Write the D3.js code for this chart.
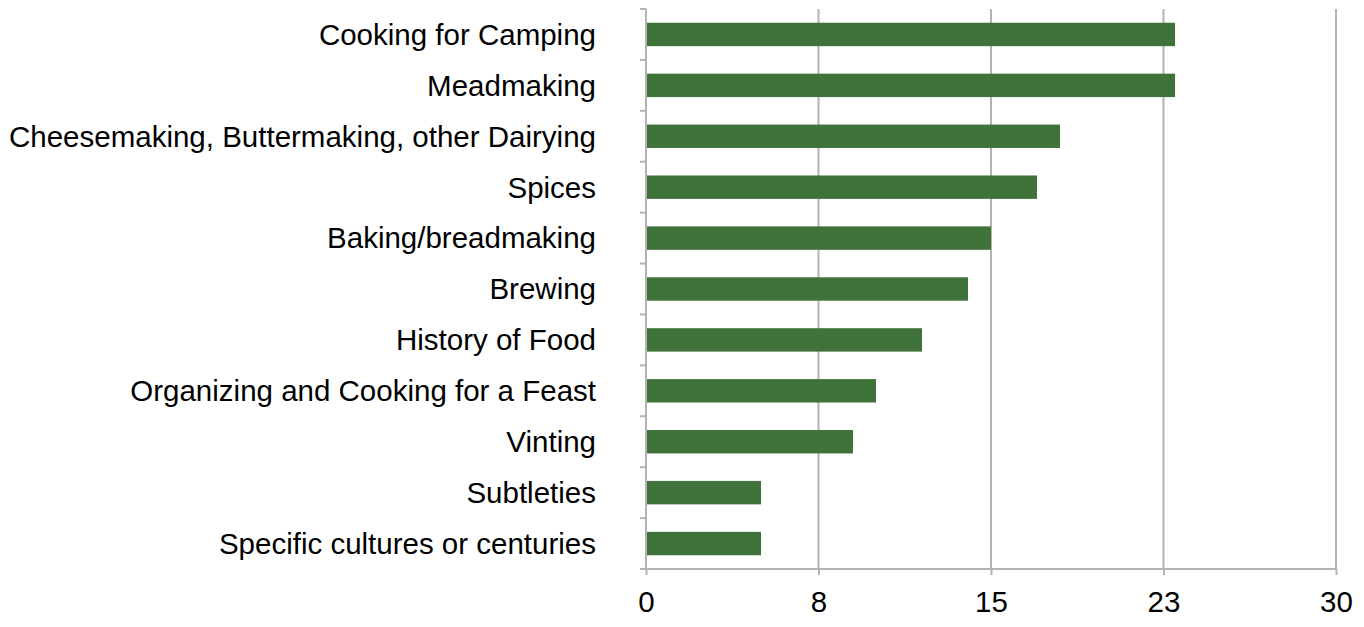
<!DOCTYPE html>
<html>
<head>
<meta charset="utf-8">
<script src="https://cdn.jsdelivr.net/npm/d3@7"></script>
<style>
  body { margin: 0; background: #fff; overflow: hidden; }
  svg { display: block; }
  text { font-family: "Liberation Sans", Arial, Helvetica, sans-serif; fill: #000; }
</style>
</head>
<body>
<svg id="mainsvg" width="1364" height="627"></svg>
<script>
// data
const categories = [
  'Cooking for Camping',
  'Meadmaking',
  'Cheesemaking, Buttermaking, other Dairying',
  'Spices',
  'Baking/breadmaking',
  'Brewing',
  'History of Food',
  'Organizing and Cooking for a Feast',
  'Vinting',
  'Subtleties',
  'Specific cultures or centuries'
];
const counts = [23, 23, 18, 17, 15, 14, 12, 10, 9, 5, 5];
const tickValues = [0, 7.5, 15, 22.5, 30];
const tickLabels = ['0', '8', '15', '23', '30'];

const svg = d3.select('#mainsvg');
const margin = { top: 9, right: 28, bottom: 58, left: 646 };
const width = +svg.attr('width');
const height = +svg.attr('height');
const innerWidth = width - margin.left - margin.right;
const innerHeight = height - margin.top - margin.bottom;

const g = svg.append('g')
  .attr('transform', `translate(${margin.left}, ${margin.top})`);

const x = d3.scaleLinear().domain([0, 30]).range([0, innerWidth]);
const y = d3.scaleBand().domain(categories).range([0, innerHeight]).paddingInner(0.54).paddingOuter(0.27);
const yEdges = d3.scaleLinear().domain([0, categories.length]).range([0, innerHeight]);

const gray = '#b3b3b3';
const fontSize = 29.5;

// vertical grid lines
g.selectAll('.grid')
  .data(tickValues.slice(1))
  .join('line')
  .attr('x1', d => x(d)).attr('x2', d => x(d))
  .attr('y1', 0).attr('y2', innerHeight)
  .attr('stroke', gray).attr('stroke-width', 2);

// bars
g.selectAll('rect')
  .data(counts)
  .join('rect')
  .attr('x', 0)
  .attr('y', (d, i) => y(categories[i]))
  .attr('width', d => x(d))
  .attr('height', y.bandwidth())
  .attr('fill', '#3f733a');

// left axis: line + ticks at category boundaries
g.append('line')
  .attr('x1', 0).attr('x2', 0).attr('y1', 0).attr('y2', innerHeight)
  .attr('stroke', gray).attr('stroke-width', 2);
g.selectAll('.ytick')
  .data(d3.range(categories.length + 1))
  .join('line')
  .attr('x1', -6).attr('x2', 0)
  .attr('y1', d => yEdges(d)).attr('y2', d => yEdges(d))
  .attr('stroke', gray).attr('stroke-width', 2);

// category labels
g.selectAll('.ylab')
  .data(categories)
  .join('text')
  .attr('x', -50)
  .attr('y', d => y(d) + y.bandwidth() / 2)
  .attr('dy', '0.35em')
  .attr('text-anchor', 'end')
  .attr('font-size', fontSize)
  .text(d => d);

// bottom axis
const xAxis = d3.axisBottom(x)
  .tickValues(tickValues)
  .tickFormat((d, i) => tickLabels[i])
  .tickSize(6)
  .tickPadding(16);
const xg = g.append('g')
  .attr('transform', `translate(0, ${innerHeight})`)
  .call(xAxis)
  .attr('font-size', fontSize)
  .attr('font-family', null);
xg.select('.domain').attr('stroke', gray).attr('stroke-width', 2).attr('d', `M0,0H${innerWidth}`);
xg.selectAll('.tick line').attr('stroke', gray).attr('stroke-width', 2);
xg.selectAll('.tick text').attr('fill', '#000');
</script>
</body>
</html>
